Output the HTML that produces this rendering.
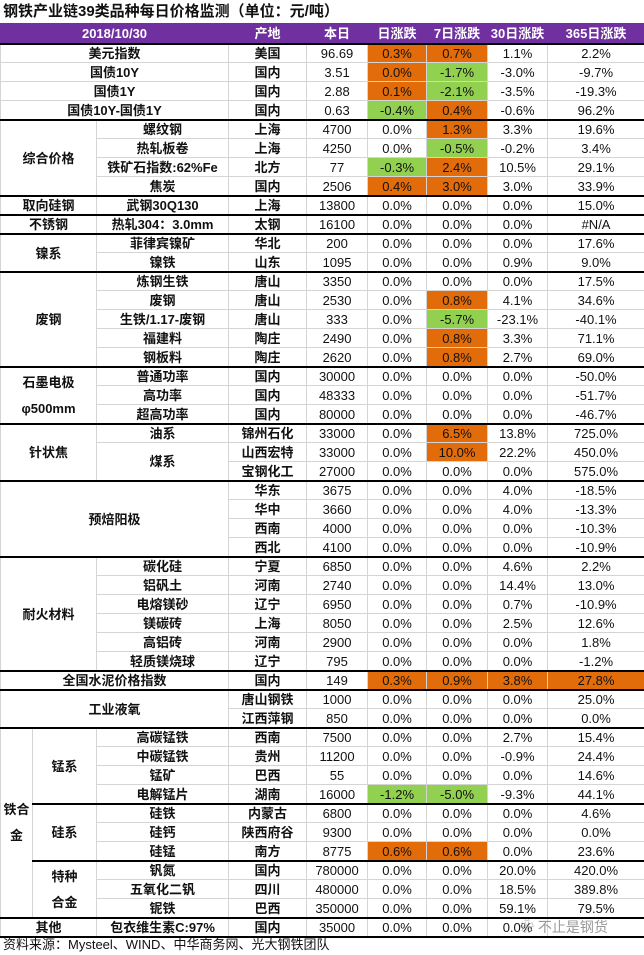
<!DOCTYPE html>
<html><head><meta charset="utf-8"><style>
body{margin:0;width:644px;height:955px;background:#fff;overflow:hidden;position:relative;font-family:"Liberation Sans","Noto Sans CJK SC",sans-serif;}
.title{position:absolute;left:3px;top:2px;font-size:15px;font-weight:bold;color:#111;line-height:20px;}
table{position:absolute;left:0;top:23px;border-collapse:collapse;table-layout:fixed;width:644px;}
td{height:18px;padding:0;border:1px solid #d4d4d4;font-size:13px;text-align:center;white-space:nowrap;overflow:hidden;line-height:17px;color:#111;}
tr.h td{height:19px;background:#7030A0;color:#fff;font-weight:bold;border-color:#7030A0;}
tr.g td{border-top:2px solid #000;height:17px;}
td.b{font-weight:bold;}
td.o{background:#E26B0A;}
td.n{background:#92D050;}
.foot{position:absolute;left:3px;top:936px;font-size:13px;color:#111;line-height:18px;}
.wm{position:absolute;left:520px;top:917px;font-size:14px;color:#999;}
</style></head><body>
<div class="title">钢铁产业链39类品种每日价格监测（单位：元/吨）</div>
<table>
<colgroup><col style="width:32px"><col style="width:64px"><col style="width:132px"><col style="width:78px"><col style="width:61px"><col style="width:59px"><col style="width:61px"><col style="width:60px"><col style="width:97px"></colgroup>
<tr class="h"><td colspan="3">2018/10/30</td><td>产地</td><td>本日</td><td>日涨跌</td><td>7日涨跌</td><td>30日涨跌</td><td>365日涨跌</td></tr>
<tr class="g"><td colspan="3" class="b">美元指数</td><td class="b">美国</td><td>96.69</td><td class="o">0.3%</td><td class="o">0.7%</td><td>1.1%</td><td>2.2%</td></tr>
<tr><td colspan="3" class="b">国债10Y</td><td class="b">国内</td><td>3.51</td><td class="o">0.0%</td><td class="n">-1.7%</td><td>-3.0%</td><td>-9.7%</td></tr>
<tr><td colspan="3" class="b">国债1Y</td><td class="b">国内</td><td>2.88</td><td class="o">0.1%</td><td class="n">-2.1%</td><td>-3.5%</td><td>-19.3%</td></tr>
<tr><td colspan="3" class="b">国债10Y-国债1Y</td><td class="b">国内</td><td>0.63</td><td class="n">-0.4%</td><td class="o">0.4%</td><td>-0.6%</td><td>96.2%</td></tr>
<tr class="g"><td colspan="2" rowspan="4" class="b">综合价格</td><td class="b">螺纹钢</td><td class="b">上海</td><td>4700</td><td>0.0%</td><td class="o">1.3%</td><td>3.3%</td><td>19.6%</td></tr>
<tr><td class="b">热轧板卷</td><td class="b">上海</td><td>4250</td><td>0.0%</td><td class="n">-0.5%</td><td>-0.2%</td><td>3.4%</td></tr>
<tr><td class="b">铁矿石指数:62%Fe</td><td class="b">北方</td><td>77</td><td class="n">-0.3%</td><td class="o">2.4%</td><td>10.5%</td><td>29.1%</td></tr>
<tr><td class="b">焦炭</td><td class="b">国内</td><td>2506</td><td class="o">0.4%</td><td class="o">3.0%</td><td>3.0%</td><td>33.9%</td></tr>
<tr class="g"><td colspan="2" class="b">取向硅钢</td><td class="b">武钢30Q130</td><td class="b">上海</td><td>13800</td><td>0.0%</td><td>0.0%</td><td>0.0%</td><td>15.0%</td></tr>
<tr class="g"><td colspan="2" class="b">不锈钢</td><td class="b">热轧304：3.0mm</td><td class="b">太钢</td><td>16100</td><td>0.0%</td><td>0.0%</td><td>0.0%</td><td>#N/A</td></tr>
<tr class="g"><td colspan="2" rowspan="2" class="b">镍系</td><td class="b">菲律宾镍矿</td><td class="b">华北</td><td>200</td><td>0.0%</td><td>0.0%</td><td>0.0%</td><td>17.6%</td></tr>
<tr><td class="b">镍铁</td><td class="b">山东</td><td>1095</td><td>0.0%</td><td>0.0%</td><td>0.9%</td><td>9.0%</td></tr>
<tr class="g"><td colspan="2" rowspan="5" class="b">废钢</td><td class="b">炼钢生铁</td><td class="b">唐山</td><td>3350</td><td>0.0%</td><td>0.0%</td><td>0.0%</td><td>17.5%</td></tr>
<tr><td class="b">废钢</td><td class="b">唐山</td><td>2530</td><td>0.0%</td><td class="o">0.8%</td><td>4.1%</td><td>34.6%</td></tr>
<tr><td class="b">生铁/1.17-废钢</td><td class="b">唐山</td><td>333</td><td>0.0%</td><td class="n">-5.7%</td><td>-23.1%</td><td>-40.1%</td></tr>
<tr><td class="b">福建料</td><td class="b">陶庄</td><td>2490</td><td>0.0%</td><td class="o">0.8%</td><td>3.3%</td><td>71.1%</td></tr>
<tr><td class="b">钢板料</td><td class="b">陶庄</td><td>2620</td><td>0.0%</td><td class="o">0.8%</td><td>2.7%</td><td>69.0%</td></tr>
<tr class="g"><td colspan="2" rowspan="3" class="b" style="line-height:26px">石墨电极<br>φ500mm</td><td class="b">普通功率</td><td class="b">国内</td><td>30000</td><td>0.0%</td><td>0.0%</td><td>0.0%</td><td>-50.0%</td></tr>
<tr><td class="b">高功率</td><td class="b">国内</td><td>48333</td><td>0.0%</td><td>0.0%</td><td>0.0%</td><td>-51.7%</td></tr>
<tr><td class="b">超高功率</td><td class="b">国内</td><td>80000</td><td>0.0%</td><td>0.0%</td><td>0.0%</td><td>-46.7%</td></tr>
<tr class="g"><td colspan="2" rowspan="3" class="b">针状焦</td><td class="b">油系</td><td class="b">锦州石化</td><td>33000</td><td>0.0%</td><td class="o">6.5%</td><td>13.8%</td><td>725.0%</td></tr>
<tr><td rowspan="2" class="b">煤系</td><td class="b">山西宏特</td><td>33000</td><td>0.0%</td><td class="o">10.0%</td><td>22.2%</td><td>450.0%</td></tr>
<tr><td class="b">宝钢化工</td><td>27000</td><td>0.0%</td><td>0.0%</td><td>0.0%</td><td>575.0%</td></tr>
<tr class="g"><td colspan="3" rowspan="4" class="b">预焙阳极</td><td class="b">华东</td><td>3675</td><td>0.0%</td><td>0.0%</td><td>4.0%</td><td>-18.5%</td></tr>
<tr><td class="b">华中</td><td>3660</td><td>0.0%</td><td>0.0%</td><td>4.0%</td><td>-13.3%</td></tr>
<tr><td class="b">西南</td><td>4000</td><td>0.0%</td><td>0.0%</td><td>0.0%</td><td>-10.3%</td></tr>
<tr><td class="b">西北</td><td>4100</td><td>0.0%</td><td>0.0%</td><td>0.0%</td><td>-10.9%</td></tr>
<tr class="g"><td colspan="2" rowspan="6" class="b">耐火材料</td><td class="b">碳化硅</td><td class="b">宁夏</td><td>6850</td><td>0.0%</td><td>0.0%</td><td>4.6%</td><td>2.2%</td></tr>
<tr><td class="b">铝矾土</td><td class="b">河南</td><td>2740</td><td>0.0%</td><td>0.0%</td><td>14.4%</td><td>13.0%</td></tr>
<tr><td class="b">电熔镁砂</td><td class="b">辽宁</td><td>6950</td><td>0.0%</td><td>0.0%</td><td>0.7%</td><td>-10.9%</td></tr>
<tr><td class="b">镁碳砖</td><td class="b">上海</td><td>8050</td><td>0.0%</td><td>0.0%</td><td>2.5%</td><td>12.6%</td></tr>
<tr><td class="b">高铝砖</td><td class="b">河南</td><td>2900</td><td>0.0%</td><td>0.0%</td><td>0.0%</td><td>1.8%</td></tr>
<tr><td class="b">轻质镁烧球</td><td class="b">辽宁</td><td>795</td><td>0.0%</td><td>0.0%</td><td>0.0%</td><td>-1.2%</td></tr>
<tr class="g"><td colspan="3" class="b">全国水泥价格指数</td><td class="b">国内</td><td>149</td><td class="o">0.3%</td><td class="o">0.9%</td><td class="o">3.8%</td><td class="o">27.8%</td></tr>
<tr class="g"><td colspan="3" rowspan="2" class="b">工业液氧</td><td class="b">唐山钢铁</td><td>1000</td><td>0.0%</td><td>0.0%</td><td>0.0%</td><td>25.0%</td></tr>
<tr><td class="b">江西萍钢</td><td>850</td><td>0.0%</td><td>0.0%</td><td>0.0%</td><td>0.0%</td></tr>
<tr class="g"><td rowspan="10" class="b" style="line-height:26px">铁合<br>金</td><td rowspan="4" class="b">锰系</td><td class="b">高碳锰铁</td><td class="b">西南</td><td>7500</td><td>0.0%</td><td>0.0%</td><td>2.7%</td><td>15.4%</td></tr>
<tr><td class="b">中碳锰铁</td><td class="b">贵州</td><td>11200</td><td>0.0%</td><td>0.0%</td><td>-0.9%</td><td>24.4%</td></tr>
<tr><td class="b">锰矿</td><td class="b">巴西</td><td>55</td><td>0.0%</td><td>0.0%</td><td>0.0%</td><td>14.6%</td></tr>
<tr><td class="b">电解锰片</td><td class="b">湖南</td><td>16000</td><td class="n">-1.2%</td><td class="n">-5.0%</td><td>-9.3%</td><td>44.1%</td></tr>
<tr class="g"><td rowspan="3" class="b">硅系</td><td class="b">硅铁</td><td class="b">内蒙古</td><td>6800</td><td>0.0%</td><td>0.0%</td><td>0.0%</td><td>4.6%</td></tr>
<tr><td class="b">硅钙</td><td class="b">陕西府谷</td><td>9300</td><td>0.0%</td><td>0.0%</td><td>0.0%</td><td>0.0%</td></tr>
<tr><td class="b">硅锰</td><td class="b">南方</td><td>8775</td><td class="o">0.6%</td><td class="o">0.6%</td><td>0.0%</td><td>23.6%</td></tr>
<tr class="g"><td rowspan="3" class="b" style="line-height:26px">特种<br>合金</td><td class="b">钒氮</td><td class="b">国内</td><td>780000</td><td>0.0%</td><td>0.0%</td><td>20.0%</td><td>420.0%</td></tr>
<tr><td class="b">五氧化二钒</td><td class="b">四川</td><td>480000</td><td>0.0%</td><td>0.0%</td><td>18.5%</td><td>389.8%</td></tr>
<tr><td class="b">铌铁</td><td class="b">巴西</td><td>350000</td><td>0.0%</td><td>0.0%</td><td>59.1%</td><td>79.5%</td></tr>
<tr class="g"><td colspan="2" class="b" style="border-bottom:2px solid #000">其他</td><td class="b" style="border-bottom:2px solid #000">包衣维生素C:97%</td><td class="b" style="border-bottom:2px solid #000">国内</td><td style="border-bottom:2px solid #000">35000</td><td style="border-bottom:2px solid #000">0.0%</td><td style="border-bottom:2px solid #000">0.0%</td><td style="border-bottom:2px solid #000">0.0%</td><td style="border-bottom:2px solid #000"></td></tr>
</table>
<div class="wm">❀ 不止是钢货</div>
<div class="foot">资料来源：Mysteel、WIND、中华商务网、光大钢铁团队</div>
</body></html>
